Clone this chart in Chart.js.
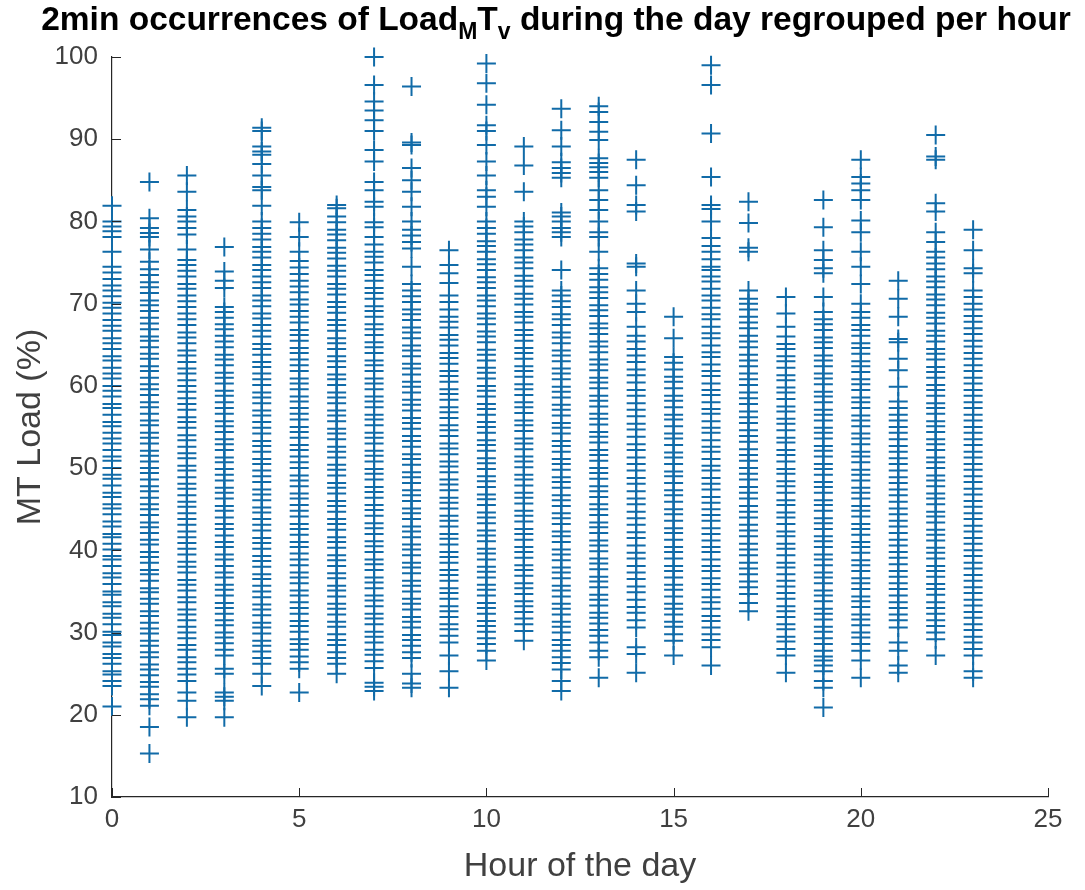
<!DOCTYPE html>
<html>
<head>
<meta charset="utf-8">
<title>MT load per hour</title>
<script src="https://cdn.jsdelivr.net/npm/chart.js@4.4.1/dist/chart.umd.min.js"></script>
<style>
  html, body { margin: 0; padding: 0; background: #fff; }
  #wrap { width: 1085px; height: 890px; position: relative; }
</style>
</head>
<body>
<div id="wrap"><canvas id="loadChart" width="1085" height="890"></canvas></div>
<script>
// 2-minute MT load samples (%), one list per hour of the day
const h00 = [21.0, 23.5, 24.1, 24.9, 25.3, 26.2, 26.9, 27.4, 28.3, 28.8, 29.7, 30.1, 31.0, 31.8, 32.3, 33.2, 33.7, 34.6, 35.0, 35.9, 36.7, 37.2, 38.1, 38.9, 39.3, 40.1, 40.8, 41.6, 42.0, 42.9, 43.5, 44.4, 45.1, 45.6, 46.5, 47.0, 47.9, 48.7, 49.2, 50.0, 50.9, 51.4, 52.2, 53.0, 53.6, 54.3, 55.1, 55.6, 56.5, 57.3, 57.8, 58.7, 59.4, 60.0, 60.9, 61.5, 62.2, 63.1, 63.6, 64.5, 65.2, 65.8, 66.7, 67.3, 68.0, 68.8, 69.5, 70.1, 70.9, 71.6, 72.2, 73.0, 73.8, 74.5, 76.3, 78.1, 78.8, 79.4, 80.0, 81.9];
const h01 = [15.3, 18.5, 21.1, 21.9, 22.5, 23.4, 24.0, 24.8, 25.5, 26.1, 27.0, 27.6, 28.4, 29.0, 29.9, 30.5, 31.2, 32.0, 32.6, 33.5, 34.1, 34.9, 35.4, 36.3, 37.1, 37.6, 38.5, 39.2, 39.8, 40.7, 41.3, 42.1, 42.8, 43.4, 44.3, 45.0, 45.6, 46.4, 47.2, 47.8, 48.6, 49.4, 50.0, 50.8, 51.5, 52.1, 53.0, 53.7, 54.3, 55.2, 55.8, 56.6, 57.4, 58.0, 58.9, 59.6, 60.2, 61.0, 61.8, 62.4, 63.3, 63.9, 64.7, 65.5, 66.0, 66.9, 67.6, 68.3, 69.1, 69.8, 70.4, 71.3, 72.0, 72.6, 73.5, 74.2, 75.1, 76.6, 78.1, 78.6, 79.2, 80.4, 84.8];
const h02 = [19.7, 21.7, 22.7, 24.1, 24.9, 25.6, 26.4, 27.0, 27.9, 28.5, 29.3, 30.0, 30.7, 31.5, 32.2, 32.8, 33.7, 34.3, 35.1, 35.8, 36.4, 37.3, 38.0, 38.6, 39.5, 40.2, 40.9, 41.6, 42.3, 43.1, 43.8, 44.5, 45.3, 45.9, 46.7, 47.5, 48.1, 48.9, 49.7, 50.3, 51.2, 51.8, 52.6, 53.4, 54.0, 54.9, 55.6, 56.2, 57.1, 57.8, 58.5, 59.3, 60.0, 60.7, 61.5, 62.1, 62.9, 63.7, 64.3, 65.2, 65.9, 66.5, 67.4, 68.1, 68.8, 69.6, 70.3, 71.0, 71.8, 72.4, 73.3, 74.0, 74.7, 75.3, 76.6, 78.4, 79.2, 80.0, 80.6, 81.4, 83.6, 85.6];
const h03 = [19.7, 21.7, 22.2, 22.7, 25.0, 25.6, 27.2, 27.9, 28.7, 29.4, 30.0, 30.9, 31.5, 32.3, 33.0, 33.6, 34.5, 35.2, 35.8, 36.7, 37.3, 38.1, 38.9, 39.5, 40.4, 41.0, 41.8, 42.6, 43.2, 44.0, 44.8, 45.4, 46.3, 47.0, 47.6, 48.5, 49.2, 49.9, 50.7, 51.3, 52.2, 52.9, 53.5, 54.4, 55.1, 55.7, 56.6, 57.3, 58.0, 58.8, 59.4, 60.3, 61.0, 61.6, 62.5, 63.2, 63.8, 64.7, 65.4, 66.1, 66.9, 67.5, 68.3, 69.0, 69.6, 71.9, 72.8, 73.9, 76.9];
const h04 = [23.5, 25.0, 26.2, 26.9, 27.7, 28.4, 29.0, 29.9, 30.6, 31.2, 32.1, 32.8, 33.4, 34.3, 35.0, 35.7, 36.5, 37.1, 38.0, 38.7, 39.3, 40.2, 40.9, 41.5, 42.4, 43.1, 43.8, 44.6, 45.2, 46.1, 46.8, 47.4, 48.3, 49.0, 49.7, 50.5, 51.1, 52.0, 52.7, 53.3, 54.2, 54.9, 55.6, 56.4, 57.0, 57.9, 58.6, 59.2, 60.1, 60.8, 61.5, 62.3, 62.9, 63.8, 64.5, 65.1, 66.0, 66.7, 67.4, 68.2, 68.8, 69.7, 70.4, 71.0, 71.9, 72.6, 73.3, 74.1, 74.7, 75.6, 76.3, 76.9, 77.8, 78.5, 79.2, 80.0, 81.9, 83.8, 84.2, 85.6, 87.0, 88.1, 88.5, 89.1, 91.0, 91.4];
const h05 = [22.7, 25.6, 26.4, 27.1, 27.9, 28.6, 29.2, 30.1, 30.8, 31.4, 32.3, 33.0, 33.7, 34.5, 35.1, 36.0, 36.7, 37.3, 38.2, 38.9, 39.6, 40.4, 41.0, 41.9, 42.6, 43.2, 44.1, 44.8, 45.5, 46.3, 46.9, 47.8, 48.5, 49.1, 50.0, 50.7, 51.4, 52.2, 52.8, 53.7, 54.4, 55.0, 55.9, 56.6, 57.3, 58.1, 58.7, 59.6, 60.3, 60.9, 61.8, 62.5, 63.2, 64.0, 64.6, 65.5, 66.2, 66.8, 67.7, 68.4, 69.1, 69.9, 70.5, 71.4, 72.1, 72.8, 73.6, 74.4, 75.2, 76.3, 78.1, 79.9];
const h06 = [25.0, 26.2, 26.9, 27.6, 28.5, 29.1, 29.8, 30.7, 31.3, 32.2, 32.9, 33.5, 34.4, 35.1, 35.7, 36.6, 37.2, 38.1, 38.8, 39.4, 40.3, 41.0, 41.6, 42.5, 43.2, 43.8, 44.7, 45.4, 46.0, 46.9, 47.6, 48.2, 49.1, 49.8, 50.4, 51.3, 52.0, 52.6, 53.5, 54.2, 54.8, 55.7, 56.4, 57.0, 57.9, 58.6, 59.2, 60.1, 60.8, 61.4, 62.3, 63.0, 63.6, 64.5, 65.2, 65.8, 66.7, 67.4, 68.0, 68.9, 69.6, 70.2, 71.1, 71.8, 72.4, 73.3, 74.0, 74.6, 75.5, 76.2, 76.8, 77.7, 78.4, 79.0, 79.9, 80.6, 81.6, 82.0];
const h07 = [22.9, 23.4, 23.9, 25.7, 26.5, 27.3, 27.9, 28.8, 29.5, 30.1, 31.0, 31.7, 32.3, 33.2, 33.9, 34.5, 35.4, 36.1, 36.7, 37.6, 38.3, 38.9, 39.8, 40.5, 41.1, 42.0, 42.7, 43.3, 44.2, 44.9, 45.5, 46.4, 47.1, 47.7, 48.6, 49.3, 49.9, 50.8, 51.5, 52.1, 53.0, 53.7, 54.3, 55.2, 55.9, 56.5, 57.4, 58.1, 58.7, 59.6, 60.3, 60.9, 61.8, 62.5, 63.1, 64.0, 64.7, 65.3, 66.2, 66.9, 67.5, 68.4, 69.1, 69.7, 70.6, 71.3, 71.9, 72.8, 73.5, 74.1, 75.0, 75.7, 76.3, 77.2, 78.1, 79.3, 79.9, 81.8, 82.4, 83.8, 84.8, 87.3, 88.7, 91.0, 92.3, 93.5, 94.6, 96.6, 100.0];
const h08 = [23.3, 23.8, 25.0, 26.9, 27.6, 28.4, 29.1, 29.7, 30.6, 31.3, 31.9, 32.8, 33.5, 34.1, 35.0, 35.7, 36.3, 37.2, 37.9, 38.5, 39.4, 40.1, 40.7, 41.6, 42.3, 42.9, 43.8, 44.5, 45.1, 46.0, 46.7, 47.3, 48.2, 48.9, 49.5, 50.4, 51.1, 51.7, 52.6, 53.3, 53.9, 54.8, 55.5, 56.1, 57.0, 57.7, 58.3, 59.2, 59.9, 60.5, 61.4, 62.1, 62.7, 63.6, 64.3, 64.9, 65.8, 66.5, 67.1, 68.0, 68.7, 69.3, 70.2, 70.9, 71.6, 72.4, 74.5, 76.7, 77.5, 78.3, 79.0, 80.0, 81.8, 83.6, 85.0, 86.5, 89.3, 89.6, 96.4];
const h09 = [23.3, 25.3, 27.2, 28.8, 29.6, 30.4, 31.0, 31.9, 32.6, 33.2, 34.1, 34.8, 35.4, 36.3, 37.0, 37.6, 38.5, 39.2, 39.8, 40.7, 41.4, 42.0, 42.9, 43.6, 44.2, 45.1, 45.8, 46.4, 47.3, 48.0, 48.6, 49.5, 50.2, 50.8, 51.7, 52.4, 53.0, 53.9, 54.6, 55.2, 56.1, 56.8, 57.4, 58.3, 59.0, 59.6, 60.5, 61.2, 61.8, 62.7, 63.4, 64.0, 64.9, 65.6, 66.2, 67.1, 67.8, 68.4, 69.3, 70.2, 71.0, 72.5, 73.7, 74.7, 76.5];
const h10 = [26.6, 27.8, 28.6, 29.3, 30.1, 30.8, 31.4, 32.3, 33.0, 33.6, 34.5, 35.2, 35.8, 36.7, 37.4, 38.0, 38.9, 39.6, 40.2, 41.1, 41.8, 42.4, 43.3, 44.0, 44.6, 45.5, 46.2, 46.8, 47.7, 48.4, 49.0, 49.9, 50.6, 51.2, 52.1, 52.8, 53.4, 54.3, 55.0, 55.6, 56.5, 57.2, 57.8, 58.7, 59.4, 60.0, 60.9, 61.6, 62.2, 63.1, 63.8, 64.4, 65.3, 66.0, 66.6, 67.5, 68.2, 68.8, 69.7, 70.4, 71.0, 71.9, 72.6, 73.2, 74.1, 74.8, 75.4, 76.3, 77.0, 77.6, 78.5, 79.2, 80.0, 81.8, 83.0, 83.8, 85.6, 87.3, 89.3, 91.0, 91.7, 94.2, 96.8, 99.2];
const h11 = [29.0, 30.2, 31.0, 31.7, 32.5, 33.2, 33.8, 34.7, 35.4, 36.0, 36.9, 37.6, 38.2, 39.1, 39.8, 40.4, 41.3, 42.0, 42.6, 43.5, 44.2, 44.8, 45.7, 46.4, 47.0, 47.9, 48.6, 49.2, 50.1, 50.8, 51.4, 52.3, 53.0, 53.6, 54.5, 55.2, 55.8, 56.7, 57.4, 58.0, 58.9, 59.6, 60.2, 61.1, 61.8, 62.4, 63.3, 64.0, 64.6, 65.5, 66.2, 66.8, 67.7, 68.4, 69.0, 69.9, 70.6, 71.2, 72.1, 72.8, 73.4, 74.3, 75.0, 75.6, 76.5, 77.2, 77.8, 78.7, 79.4, 80.0, 83.6, 86.8, 89.1];
const h12 = [22.9, 24.1, 25.5, 26.3, 27.0, 27.8, 28.5, 29.1, 30.0, 30.7, 31.3, 32.2, 32.9, 33.5, 34.4, 35.1, 35.7, 36.6, 37.3, 37.9, 38.8, 39.5, 40.1, 41.0, 41.7, 42.3, 43.2, 43.9, 44.5, 45.4, 46.1, 46.7, 47.6, 48.3, 48.9, 49.8, 50.5, 51.1, 52.0, 52.7, 53.3, 54.2, 54.9, 55.5, 56.4, 57.1, 57.7, 58.6, 59.3, 59.9, 60.8, 61.5, 62.1, 63.0, 63.7, 64.3, 65.2, 65.9, 66.5, 67.4, 68.1, 68.7, 69.6, 70.3, 71.0, 71.6, 74.1, 78.1, 78.7, 79.2, 80.0, 80.6, 81.1, 85.3, 85.9, 86.5, 87.2, 89.1, 91.1, 93.7];
const h13 = [24.5, 27.0, 27.8, 28.8, 29.6, 30.3, 31.1, 31.8, 32.4, 33.3, 34.0, 34.6, 35.5, 36.2, 36.8, 37.7, 38.4, 39.0, 39.9, 40.6, 41.2, 42.1, 42.8, 43.4, 44.3, 45.0, 45.6, 46.5, 47.2, 47.8, 48.7, 49.4, 50.0, 50.9, 51.6, 52.2, 53.1, 53.8, 54.4, 55.3, 56.0, 56.6, 57.5, 58.2, 58.8, 59.7, 60.4, 61.0, 61.9, 62.6, 63.2, 64.1, 64.8, 65.4, 66.3, 67.0, 67.6, 68.5, 69.2, 69.8, 70.7, 71.4, 72.0, 72.9, 73.6, 74.3, 76.3, 78.1, 78.7, 80.0, 81.4, 82.6, 83.8, 85.3, 86.0, 86.6, 87.1, 87.7, 89.9, 90.9, 92.1, 93.3, 94.0];
const h14 = [25.1, 27.4, 28.2, 30.6, 31.5, 32.4, 33.1, 34.0, 34.9, 35.6, 36.5, 37.3, 38.1, 39.0, 39.7, 40.6, 41.5, 42.2, 43.1, 43.9, 44.7, 45.6, 46.3, 47.2, 48.1, 48.8, 49.7, 50.5, 51.3, 52.2, 52.9, 53.8, 54.7, 55.4, 56.3, 57.1, 57.9, 58.8, 59.5, 60.4, 61.3, 62.0, 62.9, 63.7, 64.5, 65.4, 66.1, 67.2, 69.0, 70.0, 71.6, 74.5, 74.9, 81.2, 82.0, 84.4, 87.5];
const h15 = [27.2, 29.0, 29.8, 30.7, 31.3, 32.2, 32.9, 33.5, 34.4, 35.2, 35.8, 36.7, 37.5, 38.1, 39.0, 39.8, 40.4, 41.3, 42.1, 42.7, 43.6, 44.4, 45.0, 45.9, 46.7, 47.3, 48.2, 49.0, 49.6, 50.5, 51.3, 51.9, 52.8, 53.6, 54.2, 55.1, 55.9, 56.5, 57.4, 58.2, 58.8, 59.7, 60.5, 61.1, 62.0, 62.8, 63.5, 65.8, 68.4];
const h16 = [26.0, 28.2, 29.1, 29.8, 30.6, 31.4, 32.0, 32.9, 33.7, 34.3, 35.2, 35.9, 36.6, 37.5, 38.1, 38.9, 39.8, 40.4, 41.2, 42.0, 42.7, 43.6, 44.3, 45.0, 45.8, 46.5, 47.4, 48.1, 48.8, 49.7, 50.3, 51.1, 52.0, 52.6, 53.4, 54.3, 54.9, 55.7, 56.6, 57.2, 58.0, 58.9, 59.5, 60.3, 61.2, 61.8, 62.6, 63.5, 64.1, 64.9, 65.8, 66.4, 67.2, 68.1, 68.7, 69.5, 70.4, 71.0, 71.8, 72.7, 73.3, 74.1, 74.5, 75.4, 76.3, 77.0, 78.0, 80.0, 81.5, 82.0, 85.4, 90.7, 96.6, 99.0];
const h17 = [32.6, 33.6, 34.7, 35.5, 36.2, 37.1, 37.8, 38.5, 39.4, 40.1, 40.8, 41.7, 42.4, 43.1, 44.0, 44.7, 45.4, 46.3, 47.0, 47.7, 48.6, 49.3, 50.0, 50.9, 51.6, 52.3, 53.2, 53.9, 54.6, 55.5, 56.2, 56.9, 57.8, 58.5, 59.2, 60.1, 60.8, 61.5, 62.4, 63.1, 63.8, 64.7, 65.4, 66.1, 67.0, 67.7, 68.4, 69.3, 70.0, 70.6, 71.6, 76.3, 76.8, 79.8, 82.4];
const h18 = [25.1, 27.2, 28.0, 28.9, 29.5, 30.4, 31.0, 31.9, 32.6, 33.2, 34.1, 34.8, 35.6, 36.3, 37.1, 37.9, 38.5, 39.4, 40.2, 40.8, 41.7, 42.3, 43.2, 44.0, 44.6, 45.5, 46.1, 47.0, 47.8, 48.4, 49.3, 49.9, 50.8, 51.6, 52.2, 53.1, 53.7, 54.6, 55.4, 56.0, 56.9, 57.5, 58.4, 59.2, 59.8, 60.7, 61.3, 62.2, 63.0, 63.6, 64.5, 65.1, 66.0, 67.2, 68.8, 70.8];
const h19 = [20.9, 23.3, 24.1, 25.3, 26.0, 26.6, 27.1, 27.8, 28.6, 29.3, 30.1, 30.7, 31.6, 32.3, 32.9, 33.8, 34.5, 35.1, 36.0, 36.7, 37.3, 38.2, 38.9, 39.5, 40.4, 41.1, 41.7, 42.6, 43.3, 43.9, 44.8, 45.5, 46.1, 47.0, 47.7, 48.3, 49.2, 49.9, 50.5, 51.4, 52.1, 52.7, 53.6, 54.3, 54.9, 55.8, 56.5, 57.1, 58.0, 58.7, 59.3, 60.2, 60.9, 61.5, 62.4, 63.1, 63.7, 64.6, 65.3, 65.9, 66.8, 67.5, 68.1, 69.0, 70.8, 73.7, 74.3, 75.3, 76.5, 79.3, 82.6];
const h20 = [24.5, 26.6, 27.8, 28.6, 29.4, 30.0, 30.9, 31.6, 32.2, 33.1, 33.8, 34.4, 35.3, 36.0, 36.6, 37.5, 38.2, 38.8, 39.7, 40.4, 41.0, 41.9, 42.6, 43.2, 44.1, 44.8, 45.4, 46.3, 47.0, 47.6, 48.5, 49.2, 49.8, 50.7, 51.4, 52.0, 52.9, 53.6, 54.2, 55.1, 55.8, 56.4, 57.3, 58.0, 58.6, 59.5, 60.2, 60.8, 61.7, 62.4, 63.0, 63.9, 64.6, 65.2, 66.1, 66.8, 67.4, 68.3, 69.0, 70.0, 72.4, 74.5, 76.3, 78.7, 80.1, 82.6, 83.8, 84.6, 85.4, 87.5];
const h21 = [25.1, 26.0, 27.8, 28.8, 30.6, 31.5, 32.2, 33.0, 33.7, 34.5, 35.3, 36.0, 36.8, 37.5, 38.3, 39.1, 39.8, 40.6, 41.3, 42.1, 42.9, 43.6, 44.4, 45.1, 45.9, 46.7, 47.4, 48.2, 48.9, 49.7, 50.5, 51.2, 52.0, 52.7, 53.5, 54.3, 55.0, 55.8, 56.5, 57.3, 58.1, 59.9, 61.9, 63.3, 65.3, 65.7, 68.4, 70.6, 72.8];
const h22 = [27.2, 29.2, 30.0, 30.8, 31.5, 32.3, 33.0, 33.7, 34.6, 35.3, 35.9, 36.8, 37.5, 38.1, 39.0, 39.7, 40.3, 41.2, 41.9, 42.5, 43.4, 44.1, 44.7, 45.6, 46.3, 46.9, 47.8, 48.5, 49.1, 50.0, 50.7, 51.3, 52.2, 52.9, 53.5, 54.4, 55.1, 55.7, 56.6, 57.3, 57.9, 58.8, 59.5, 60.1, 61.0, 61.7, 62.3, 63.2, 63.9, 64.5, 65.4, 66.1, 66.7, 67.6, 68.3, 68.9, 69.8, 70.5, 71.1, 72.0, 72.7, 73.3, 74.2, 74.9, 75.6, 76.3, 77.5, 78.7, 81.2, 82.2, 87.5, 87.9, 90.5];
const h23 = [24.5, 25.3, 27.2, 28.0, 28.8, 29.5, 30.3, 31.0, 31.8, 32.5, 33.3, 34.0, 34.8, 35.5, 36.3, 37.0, 37.8, 38.5, 39.3, 40.0, 40.8, 41.5, 42.3, 43.0, 43.8, 44.5, 45.3, 46.0, 46.8, 47.5, 48.3, 49.0, 49.8, 50.5, 51.3, 52.0, 52.8, 53.5, 54.3, 55.0, 55.8, 56.5, 57.3, 58.0, 58.8, 59.5, 60.3, 61.0, 61.8, 62.5, 63.3, 64.0, 64.8, 65.5, 66.3, 67.0, 67.8, 68.5, 69.3, 70.0, 70.8, 71.6, 73.7, 74.3, 76.5, 79.0];

const hours = [0, 1, 2, 3, 4, 5, 6, 7, 8, 9, 10, 11, 12, 13, 14, 15, 16, 17, 18, 19, 20, 21, 22, 23];
const loadByHour = [h00, h01, h02, h03, h04, h05, h06, h07, h08, h09, h10, h11,
                    h12, h13, h14, h15, h16, h17, h18, h19, h20, h21, h22, h23];
const xTicks = [0, 5, 10, 15, 20, 25];
const yTicks = [10, 20, 30, 40, 50, 60, 70, 80, 90, 100];

const points = [];
hours.forEach((h, i) => {
  loadByHour[i].forEach(v => points.push({ x: h, y: v }));
});

const axisColor = '#262626';
const textColor = '#404040';
const fontFamily = '"Liberation Sans", Arial, Helvetica, sans-serif';

// MATLAB-style ticks: short marks pointing into the plot
const innerTicks = {
  id: 'innerTicks',
  afterDraw(chart) {
    const { ctx, chartArea, scales } = chart;
    const len = 9;
    ctx.save();
    ctx.strokeStyle = axisColor;
    ctx.lineWidth = 1;
    ctx.beginPath();
    xTicks.forEach(t => {
      const px = Math.round(scales.x.getPixelForValue(t)) + 0.5;
      ctx.moveTo(px, chartArea.bottom);
      ctx.lineTo(px, chartArea.bottom - len);
    });
    yTicks.forEach(t => {
      const py = Math.round(scales.y.getPixelForValue(t)) + 0.5;
      ctx.moveTo(chartArea.left, py);
      ctx.lineTo(chartArea.left + len, py);
    });
    ctx.stroke();
    ctx.restore();
  }
};

// title with TeX-like subscripts: Load_M T_v
const subTitle = {
  id: 'subTitle',
  afterDraw(chart) {
    const { ctx } = chart;
    const big = 'bold 33.5px ' + fontFamily;
    const small = 'bold 23px ' + fontFamily;
    const parts = [
      { t: '2min occurrences of Load', f: big, dy: 0 },
      { t: 'M', f: small, dy: 9 },
      { t: 'T', f: big, dy: 0 },
      { t: 'v', f: small, dy: 9 },
      { t: ' during the day regrouped per hour', f: big, dy: 0 }
    ];
    ctx.save();
    ctx.fillStyle = '#000';
    ctx.textBaseline = 'alphabetic';
    let total = 0;
    parts.forEach(p => { ctx.font = p.f; p.w = ctx.measureText(p.t).width; total += p.w; });
    let x = 556 - total / 2;
    const base = 30;
    parts.forEach(p => {
      ctx.font = p.f;
      ctx.fillText(p.t, x, base + p.dy);
      x += p.w;
    });
    ctx.restore();
  }
};

new Chart(document.getElementById('loadChart'), {
  type: 'scatter',
  data: {
    datasets: [{
      data: points,
      pointStyle: 'cross',
      pointRadius: 9.5,
      pointHoverRadius: 9.5,
      borderColor: '#116ba8',
      backgroundColor: '#116ba8',
      borderWidth: 2,
      clip: false
    }]
  },
  options: {
    responsive: false,
    animation: false,
    events: [],
    layout: { padding: { left: 0, right: 37, top: 57, bottom: 0 } },
    plugins: { legend: { display: false }, tooltip: { enabled: false }, title: { display: false } },
    scales: {
      x: {
        type: 'linear',
        min: 0,
        max: 25,
        afterFit(scale) { scale.height = 93; },
        afterBuildTicks(scale) { scale.ticks = xTicks.map(v => ({ value: v })); },
        grid: { display: false, drawTicks: false },
        border: { display: true, color: axisColor, width: 1.2 },
        ticks: { padding: 7, color: textColor, font: { family: fontFamily, size: 26 } },
        title: {
          display: true,
          text: 'Hour of the day',
          color: textColor,
          font: { family: fontFamily, size: 34 },
          padding: { top: 0, bottom: 3 }
        }
      },
      y: {
        type: 'linear',
        min: 10,
        max: 100,
        afterFit(scale) { scale.width = 112; },
        afterBuildTicks(scale) { scale.ticks = yTicks.map(v => ({ value: v })); },
        grid: { display: false, drawTicks: false },
        border: { display: true, color: axisColor, width: 1.2 },
        ticks: { padding: 14, color: textColor, font: { family: fontFamily, size: 26 } },
        title: {
          display: true,
          text: 'MT Load (%)',
          color: textColor,
          font: { family: fontFamily, size: 34 },
          padding: { top: 10, bottom: 0 }
        }
      }
    }
  },
  plugins: [innerTicks, subTitle]
});
</script>
</body>
</html>
